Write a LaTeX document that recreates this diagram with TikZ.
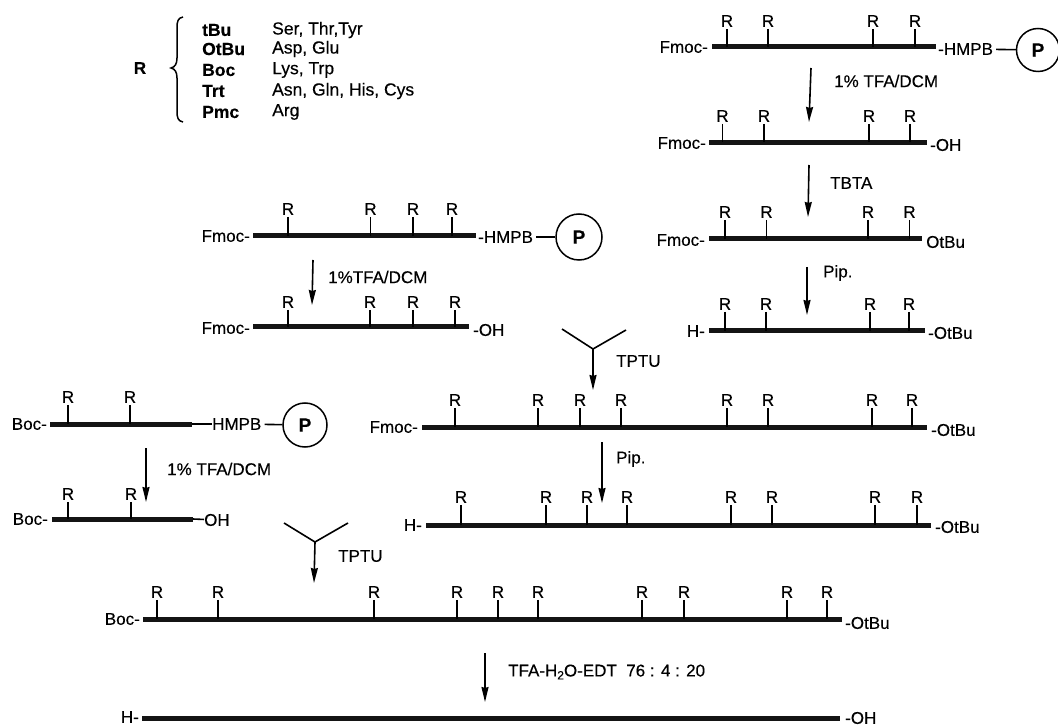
\documentclass[tikz,border=0pt]{standalone}
\usepackage{fontspec}
\setmainfont{Liberation Sans}[RawFeature={embolden=0.35}]
\usetikzlibrary{arrows.meta}
\tikzset{
  every node/.style={font=\fontsize{17}{20}\selectfont, inner sep=0pt},
  bar/.style={line width=5pt, black!92},
  thinbar/.style={line width=1.6pt},
  stem/.style={line width=1.8pt},
  rlab/.style={anchor=center, outer sep=2pt},
  rxn/.style={line width=1.6pt, -{Stealth[length=15pt,width=7pt,inset=1pt]}},
  fork/.style={line width=1.6pt},
  resin/.style={draw, circle, line width=1.5pt, minimum size=43pt, font=\fontsize{19}{20}\selectfont\bfseries},
  ll/.style={anchor=east},
  rl/.style={anchor=west},
  lab/.style={anchor=west},
  prot/.style={anchor=west, font=\fontsize{17.5}{20}\selectfont\bfseries},
  resid/.style={anchor=west, font=\fontsize{17.5}{20}\selectfont},
  link/.style={thinbar, shorten <=3pt}
}
% #1 id, #2 x start, #3 x end, #4 y bar, #5 y of R label, #6 list of R x positions
\newcommand{\chainbar}[6]{%
  \coordinate (#1a) at (#2,#4);
  \coordinate (#1b) at (#3,#4);
  \draw[bar] (#1a) -- (#1b);
  \foreach \xr [count=\ir] in {#6} {
    \node[rlab] (#1r\ir) at (\xr,#5) {R};
    \coordinate (#1s\ir) at (\xr,#4);
    \draw[stem] (#1r\ir.south) -- (#1s\ir);
  }%
}
\begin{document}
\begin{tikzpicture}[x=1pt,y=-1pt]
\useasboundingbox[fill=white] (0,0) rectangle (1058,727);

% legend
\node (legR) at (140,68) {\bfseries R};
\coordinate (brT) at (183,17);
\coordinate (brTip) at (171,68);
\coordinate (brB) at (183,122);
\draw[line width=1.5pt] (brT) .. controls (178,18) and (177,21) .. (177,28) -- (177,58)
   .. controls (177,64) and (175,67) .. (brTip) .. controls (175,69) and (177,72) .. (177,78)
   -- (177,111) .. controls (177,118) and (178,121) .. (brB);
\node[prot] (p1) at (202,30) {tBu};
\node[prot] (p2) at (202,49) {OtBu};
\node[prot] (p3) at (202,70) {Boc};
\node[prot] (p4) at (202,91) {Trt};
\node[prot] (p5) at (202,112) {Pmc};
\node[resid] (q1) at (272,30) {Ser, Thr,Tyr};
\node[resid] (q2) at (272,49) {Asp, Glu};
\node[resid] (q3) at (272,70) {Lys, Trp};
\node[resid] (q4) at (272,91) {Asn, Gln, His, Cys};
\node[resid] (q5) at (272,112) {Arg};

% right column
\chainbar{A}{712}{936}{47}{21}{727,768,873,915}
\node[ll] (Al) at (708,47) {Fmoc-};
\node[rl] (Ar) at (938,49) {-HMPB};
\node[resin] (Ap) at (1038,50) {P};
\draw[link] (Ar) -- (Ap);

\coordinate (a1s) at (811,68); \coordinate (a1e) at (809,122);
\draw[rxn] (a1s) -- (a1e);
\node[lab] (a1l) at (834,81) {1\% TFA/DCM};

\chainbar{B}{709}{927}{142.5}{116}{722.5,764,869,910}
\node[ll] (Bl) at (706,143) {Fmoc-};
\node[rl] (Br) at (930,145) {-OH};

\coordinate (a2s) at (809,165); \coordinate (a2e) at (808,217);
\draw[rxn] (a2s) -- (a2e);
\node[lab] (a2l) at (830,183) {TBTA};

\chainbar{C}{709}{922}{239}{212}{725,766.5,868,909.5}
\node[ll] (Cl) at (705,240) {Fmoc-};
\node[rl] (Cr) at (926,242) {OtBu};

\coordinate (a3s) at (807,267); \coordinate (a3e) at (807,315);
\draw[rxn] (a3s) -- (a3e);
\node[lab] (a3l) at (823,273) {Pip.};

\chainbar{D}{709}{925}{331}{304}{725,766,870,909}
\node[ll] (Dl) at (705,331) {H-};
\node[rl] (Dr) at (928,333) {-OtBu};

% middle upper
\chainbar{E}{253}{476}{236}{209}{288,370.5,413,452}
\node[ll] (El) at (250,236) {Fmoc-};
\node[rl] (Er) at (478,237) {-HMPB};
\node[resin, minimum size=46pt] (Ep) at (579,237) {P};
\draw[link] (Er) -- (Ep);

\coordinate (a4s) at (313,260); \coordinate (a4e) at (312,305);
\draw[rxn] (a4s) -- (a4e);
\node[lab] (a4l) at (328,277) {1\%TFA/DCM};

\chainbar{F}{253}{469}{327}{302}{288,370,413,455}
\node[ll] (Fl) at (250,328) {Fmoc-};
\node[rl] (Fr) at (473,330) {-OH};

% first TPTU
\coordinate (y1l) at (562,329); \coordinate (y1c) at (593,349);
\coordinate (y1r) at (626,330); \coordinate (y1e) at (593,390);
\draw[fork] (y1l) -- (y1c) -- (y1r);
\draw[rxn] (y1c) -- (y1e);
\node[lab] (y1t) at (616,361) {TPTU};

% long chains
\chainbar{G}{422}{927}{427}{400}{455,538,580,621,727,768,872,912}
\node[ll] (Gl) at (418,427) {Fmoc-};
\node[rl] (Gr) at (931,430) {-OtBu};

\coordinate (a5s) at (602,442); \coordinate (a5e) at (602,503);
\draw[rxn] (a5s) -- (a5e);
\node[lab] (a5l) at (616,459) {Pip.};

\chainbar{H}{426}{931}{525}{497}{461,546,587,627,731,772,875,917}
\node[ll] (Hl) at (422,525) {H-};
\node[rl] (Hr) at (935,527) {-OtBu};

% left
\chainbar{I}{50}{192}{424}{397}{68,130}
\node[ll] (Il) at (47,424) {Boc-};
\node[rl] (Ir) at (212,424) {HMPB};
\node[resin, minimum size=44pt] (Ip) at (305,425) {P};
\draw[thinbar] (Ib) -- (Ir);
\draw[link] (Ir) -- (Ip);

\coordinate (a6s) at (146,448); \coordinate (a6e) at (146,502);
\draw[rxn] (a6s) -- (a6e);
\node[lab] (a6l) at (167,469) {1\% TFA/DCM};

\chainbar{J}{52}{193}{519}{494}{68,131}
\node[ll] (Jl) at (48,519) {Boc-};
\node[rl] (Jr) at (204,520) {OH};
\draw[thinbar] (Jb) -- (Jr);

% second TPTU
\coordinate (y2l) at (284,523); \coordinate (y2c) at (315,542);
\coordinate (y2r) at (348,523); \coordinate (y2e) at (314,583);
\draw[fork] (y2l) -- (y2c) -- (y2r);
\draw[rxn] (y2c) -- (y2e);
\node[lab] (y2t) at (338,556) {TPTU};

% bottom
\chainbar{K}{143}{842}{619}{592}{157,218,374,457,498,538,642,684,787,827}
\node[ll] (Kl) at (140,619) {Boc-};
\node[rl] (Kr) at (845,623) {-OtBu};

\coordinate (a7s) at (485,653); \coordinate (a7e) at (485,702);
\draw[rxn] (a7s) -- (a7e);
\node[lab] (a7l) at (508,672) {TFA-H\raisebox{-3pt}{\fontsize{12}{12}\selectfont 2}O-EDT\ \ 76 : 4 : 20};

\coordinate (La) at (142,718); \coordinate (Lb) at (840,718);
\draw[bar] (La) -- (Lb);
\node[ll] (Ll) at (139,717) {H-};
\node[rl] (Lr) at (845,718) {-OH};
\end{tikzpicture}
\end{document}
